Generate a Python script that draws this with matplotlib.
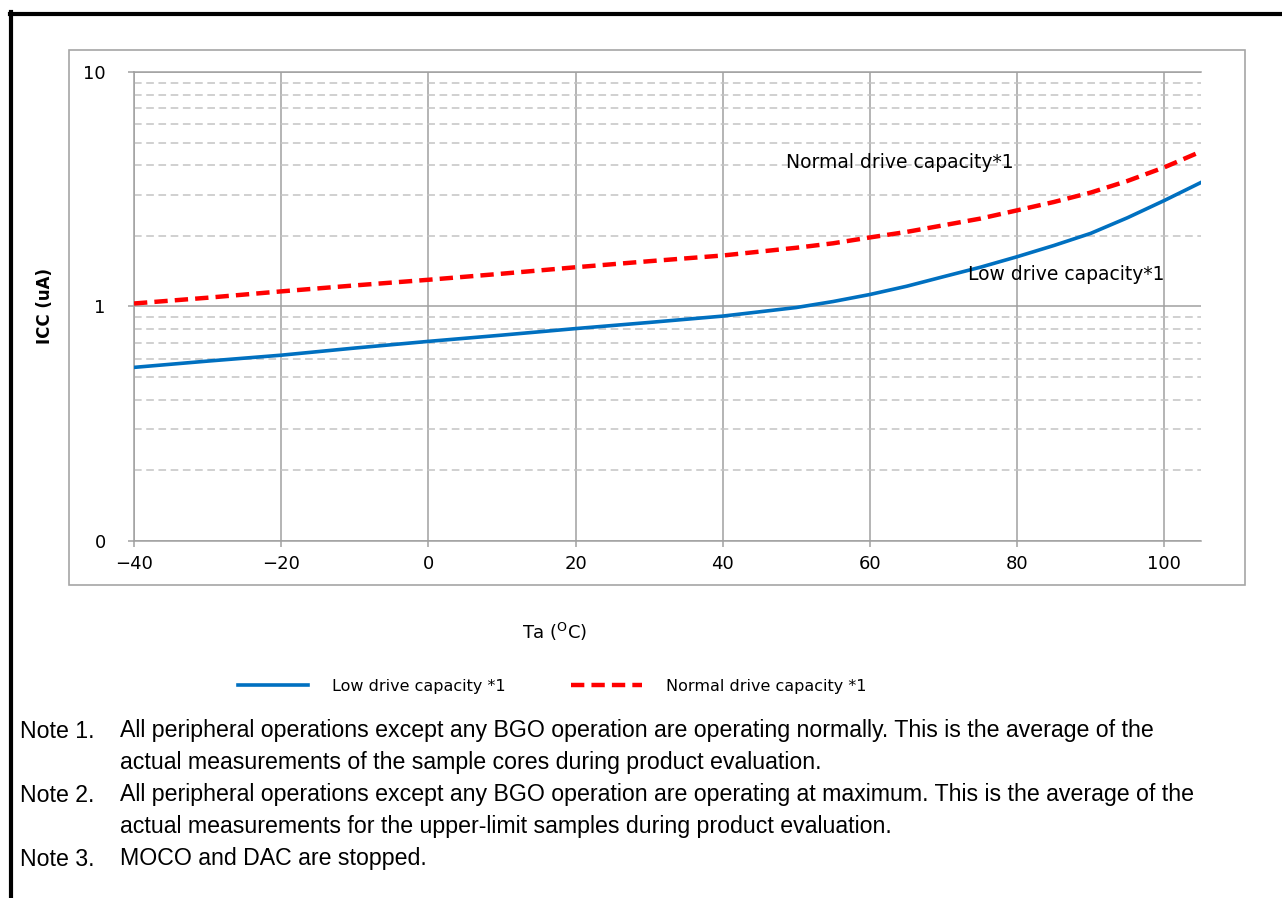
import matplotlib.pyplot as plt
from matplotlib.patches import Rectangle
from matplotlib.lines import Line2D
from matplotlib.ticker import LogLocator, FixedLocator, NullFormatter

# Ambient temperature (deg C)
temp = [-40, -30, -20, -10, 0, 10, 20, 30, 40, 50, 55, 60, 65, 70, 75, 80,
        85, 90, 95, 100, 105]
# Current consumption (uA)
icc_low = [0.55, 0.585, 0.62, 0.665, 0.71, 0.755, 0.805, 0.855, 0.91, 0.99,
           1.05, 1.125, 1.22, 1.34, 1.47, 1.63, 1.82, 2.05, 2.39, 2.83, 3.38]
icc_normal = [1.03, 1.09, 1.16, 1.23, 1.30, 1.38, 1.47, 1.56, 1.65, 1.78,
              1.86, 1.97, 2.08, 2.22, 2.37, 2.57, 2.79, 3.06, 3.43, 3.92, 4.58]

x_ticks = [-40, -20, 0, 20, 40, 60, 80, 100]
y_ticks = [0.1, 1, 10]
y_tick_labels = ['0', '1', '10']

notes = [
    ('Note 1.', 'All peripheral operations except any BGO operation are operating normally. This is the average of the'),
    ('', 'actual measurements of the sample cores during product evaluation.'),
    ('Note 2.', 'All peripheral operations except any BGO operation are operating at maximum. This is the average of the'),
    ('', 'actual measurements for the upper-limit samples during product evaluation.'),
    ('Note 3.', 'MOCO and DAC are stopped.'),
]

W, H = 1282, 898
fig = plt.figure(figsize=(W / 100, H / 100), dpi=100)

# outer black frame (top and left only)
fig.add_artist(Line2D([10 / W, 1.0], [1 - 13.5 / H, 1 - 13.5 / H], color='black', lw=3))
fig.add_artist(Line2D([11 / W, 11 / W], [0, 1 - 12 / H], color='black', lw=3))

# chart area frame
fig.add_artist(Rectangle((69 / W, 1 - 585 / H), (1245 - 69) / W, (585 - 50) / H,
                         fill=False, edgecolor='#a6a6a6', lw=1.2))

ax = fig.add_axes([134 / W, 1 - 541 / H, (1201 - 134) / W, (541 - 72) / H])
ax.set_yscale('log')
ax.set_xlim(-40, 105)
ax.set_ylim(0.1, 10)

ax.plot(temp, icc_low, color='#0070c0', lw=2.6, label='Low drive capacity *1', zorder=3)
ax.plot(temp, icc_normal, color='#ff0000', lw=3.2, ls=(0, (3, 1.6)),
        label='Normal drive capacity *1', zorder=3)

ax.xaxis.set_major_locator(FixedLocator(x_ticks))
ax.yaxis.set_major_locator(FixedLocator(y_ticks))
ax.set_yticklabels(y_tick_labels)
ax.yaxis.set_minor_locator(LogLocator(base=10, subs=range(2, 10)))
ax.yaxis.set_minor_formatter(NullFormatter())

ax.grid(True, which='major', axis='x', color='#a0a0a0', lw=1.1)
ax.grid(True, which='major', axis='y', color='#a0a0a0', lw=1.1)
ax.grid(True, which='minor', axis='y', color='#c4c4c4', lw=1.1, ls=(0, (5, 3)))

ax.spines['right'].set_visible(False)
for side in ['left', 'bottom', 'top']:
    ax.spines[side].set_color('#a0a0a0')
    ax.spines[side].set_linewidth(1.1)

ax.tick_params(axis='both', which='major', color='#a0a0a0', length=4.3, width=1.1,
               labelsize=13)
ax.tick_params(axis='y', which='minor', length=0)
ax.tick_params(axis='y', pad=16)
ax.tick_params(axis='x', pad=6)

ax.text(48.6, 4.11, 'Normal drive capacity*1', fontsize=13.5, ha='left', va='center')
ax.text(73.3, 1.37, 'Low drive capacity*1', fontsize=13.5, ha='left', va='center')

fig.text(45 / W, 1 - 306 / H, 'ICC (uA)', rotation=90, fontsize=12, fontweight='bold',
         ha='center', va='center')
fig.text(555 / W, 1 - 632 / H, 'Ta ($^{\\mathrm{O}}$C)', fontsize=13, ha='center', va='center')

handles, labels = ax.get_legend_handles_labels()
fig.legend(handles, labels, loc='center', bbox_to_anchor=(552 / W, 1 - 686 / H), ncol=2,
           frameon=False, fontsize=11.5, handlelength=4.4, handletextpad=1.5,
           columnspacing=4.1)

y0 = 731
for i, (head, body) in enumerate(notes):
    y = 1 - (y0 + i * 32) / H
    if head:
        fig.text(20 / W, y, head, fontsize=16.7, family='Liberation Sans', va='center')
    fig.text(120 / W, y, body, fontsize=16.7, family='Liberation Sans', va='center')

fig.savefig('out.png', dpi=100)
